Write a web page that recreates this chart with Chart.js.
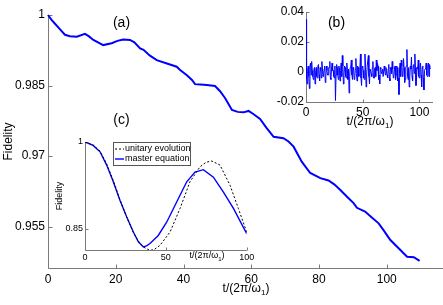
<!DOCTYPE html>
<html>
<head>
<meta charset="utf-8">
<script src="https://cdn.jsdelivr.net/npm/chart.js@4.4.1/dist/chart.umd.min.js"></script>
<style>
  html, body { margin: 0; padding: 0; background: #fff; }
  #wrap { position: relative; width: 443px; height: 305px; overflow: hidden; }
  canvas { position: absolute; }
  #main { left: 0; top: 0; }
  #insetB { left: 260px; top: 0; }
  #insetC { left: 40px; top: 110px; }
</style>
</head>
<body>
<div id="wrap">
  <canvas id="main" width="443" height="305"></canvas>
  <canvas id="insetC" width="220" height="160"></canvas>
  <canvas id="insetB" width="183" height="135"></canvas>
</div>
<script>
// (a) fidelity under the master equation, long run
const mainT = [0, 1, 2, 3.5, 5, 6.5, 8.5, 10.9, 12, 13.4, 16.3, 18.8, 20.5, 22.2, 24.2, 25.5, 27.2, 28.2, 30, 32.1,
  35.1, 38, 39, 41, 42.5, 43.4, 45, 46.9, 49.3, 50.8, 52.3, 54.3, 56, 57.7, 59.2, 60.5, 62.6, 64.5, 66.6, 69.5,
  71, 72.5, 74.9, 77.4, 80.4, 82.8, 84.5, 86.3, 88.2, 90.2, 91.2, 93.6, 95.5, 97.6, 99.3, 101, 103.5, 106, 108, 109.7];
const mainF = [1.0, 0.9990, 0.9982, 0.9970, 0.9958, 0.9955, 0.9954, 0.9960, 0.9955, 0.9947, 0.9936, 0.9940, 0.9945, 0.9948, 0.9947, 0.9942, 0.9929, 0.9926, 0.9914, 0.9904,
  0.9897, 0.9890, 0.9883, 0.9872, 0.9862, 0.9853, 0.9852, 0.9851, 0.9849, 0.9838, 0.9823, 0.9798, 0.9794, 0.9793, 0.9796, 0.9790, 0.9779, 0.9760, 0.9741, 0.9738,
  0.9731, 0.9720, 0.9688, 0.9664, 0.9653, 0.9648, 0.9640, 0.9628, 0.9614, 0.9600, 0.9590, 0.9582, 0.9570, 0.9557, 0.9540, 0.9522, 0.9504, 0.9486, 0.9485, 0.9477];
const mainXTicks = [0, 20, 40, 60, 80, 100];
const mainYTicks = [0.955, 0.97, 0.985, 1];

// (b) difference: values at whole periods 0..109 and at the half periods 0.5..109.5
const bWhole = [0.035, -0.008, 0.004, -0.011, 0.006, 0.007, -0.003, 0.002, -0.008, 0.003, -0.004, 0.005, -0.006, 0.001, 0.007, -0.003, 0.002, -0.007, 0.004, -0.002,
  0.003, 0.007, -0.005, 0.006, 0.001, -0.004, -0.019, 0.005, -0.002, 0.004, -0.006, 0.006, 0.011, -0.008, 0.004, -0.003, 0.006, -0.005, -0.014, 0.003,
  0.008, -0.005, 0.002, -0.004, 0.009, -0.006, 0.003, -0.002, 0.012, -0.009, 0.004, -0.004, 0.012, -0.010, 0.004, 0.011, -0.008, 0.002, -0.003, 0.007,
  -0.004, 0.003, 0.008, 0.006, -0.005, -0.008, 0.002, 0.000, -0.003, 0.004, -0.002, 0.001, -0.004, 0.005, -0.006, 0.003, 0.007, -0.004, 0.002, -0.005,
  0.004, -0.006, -0.015, 0.006, 0.008, -0.003, 0.009, -0.007, 0.003, 0.015, -0.005, -0.010, 0.004, 0.010, -0.006, 0.005, 0.012, -0.009, 0.003, 0.008,
  -0.004, 0.006, -0.010, 0.004, -0.012, 0.002, 0.006, -0.003, 0.006, 0.005];
const bHalf = [-0.004, 0.002, -0.003, 0.004, -0.002, 0.001, -0.005, 0.003, 0.000, -0.003, 0.004, -0.002, 0.003, -0.004, 0.002, -0.001, 0.004, -0.003, 0.001, -0.002,
  0.003, -0.004, 0.002, 0.001, -0.003, 0.004, -0.002, 0.003, -0.005, 0.002, 0.001, -0.003, 0.004, -0.002, 0.003, -0.004, 0.001, 0.002, -0.003, 0.004,
  -0.002, 0.003, -0.005, 0.002, -0.001, 0.004, -0.003, 0.002, -0.004, 0.003, 0.001, -0.005, 0.003, -0.002, 0.004, -0.003, 0.002, -0.001, 0.003, -0.004,
  0.002, -0.003, 0.001, 0.004, -0.002, 0.003, -0.001, 0.002, -0.003, 0.001, 0.003, -0.002, 0.002, -0.004, 0.003, -0.001, 0.002, -0.003, 0.004, -0.002,
  0.003, -0.004, 0.002, -0.003, 0.004, -0.002, 0.003, -0.005, 0.004, -0.002, 0.003, -0.004, 0.002, -0.003, 0.004, -0.001, 0.003, -0.004, 0.002, -0.003,
  0.004, -0.002, 0.003, -0.004, 0.001, 0.003, -0.002, 0.004, -0.003, 0.002];
const bXTicks = [0, 50, 100];
const bYTicks = [-0.02, 0, 0.02, 0.04];

// (c) short run: unitary evolution vs master equation
const unitaryT = [0, 5, 9.3, 13.4, 17.5, 21.6, 25.8, 29.9, 33, 36.1, 40.2, 43, 46.4, 52.6, 58.8, 64.9, 71.1, 75, 78.4, 83.5, 89.7, 94.8, 100];
const unitaryF = [1.0, 0.995, 0.984, 0.962, 0.933, 0.900, 0.870, 0.843, 0.828, 0.818, 0.812, 0.814, 0.821, 0.844, 0.885, 0.931, 0.957, 0.965, 0.967, 0.960, 0.925, 0.885, 0.844];
const masterT = [0, 5, 9.3, 13.4, 17.5, 21.6, 25.8, 29.9, 33, 36.1, 38, 40.2, 45.3, 50.5, 56.7, 62.9, 68, 73.2, 79.4, 85.6, 91.8, 100];
const masterF = [1.0, 0.994, 0.983, 0.960, 0.931, 0.899, 0.870, 0.844, 0.827, 0.818, 0.820, 0.824, 0.838, 0.861, 0.896, 0.931, 0.948, 0.952, 0.939, 0.913, 0.885, 0.841];
const cXTicks = [0, 50, 100];
const cYTicks = [0.85, 1];

const FONT = '"Liberation Sans", Arial, Helvetica, sans-serif';
const AXIS = '#7a7a7a';

function pts(xs, ys) { return xs.map((x, i) => ({ x: x, y: ys[i] })); }

// interleave whole and half period samples
const bPts = [];
bWhole.forEach((v, i) => {
  bPts.push({ x: i, y: v });
  bPts.push({ x: i + 0.5, y: bHalf[i] });
});

function drawSubTitle(ctx, cx, cy, size) {
  const a = 't/(2\u03c0/\u03c9', s = '1', b = ')';
  ctx.font = size + 'px ' + FONT;
  const wa = ctx.measureText(a).width, wb = ctx.measureText(b).width;
  ctx.font = Math.round(size * 0.7) + 'px ' + FONT;
  const ws = ctx.measureText(s).width;
  let x = cx - (wa + ws + wb) / 2;
  ctx.textAlign = 'left';
  ctx.textBaseline = 'middle';
  ctx.font = size + 'px ' + FONT;
  ctx.fillText(a, x, cy); x += wa;
  ctx.font = Math.round(size * 0.7) + 'px ' + FONT;
  ctx.fillText(s, x, cy + size * 0.35); x += ws;
  ctx.font = size + 'px ' + FONT;
  ctx.fillText(b, x, cy);
}

// matlab-ish axes: left and bottom lines with inward ticks, plus free text
const matlabAxes = {
  id: 'matlabAxes',
  beforeDatasetsDraw(chart, args, opts) {
    const { ctx, chartArea: a, scales } = chart;
    const L = Math.round(a.left) + 0.5, B = Math.round(a.bottom) + 0.5;
    ctx.save();
    ctx.strokeStyle = AXIS;
    ctx.lineWidth = 1;
    ctx.beginPath();
    ctx.moveTo(L, a.top);
    ctx.lineTo(L, B);
    ctx.lineTo(a.right, B);
    scales.x.ticks.forEach(t => {
      const px = Math.round(scales.x.getPixelForValue(t.value)) + 0.5;
      ctx.moveTo(px, B); ctx.lineTo(px, B - opts.tick);
    });
    scales.y.ticks.forEach(t => {
      const py = Math.round(scales.y.getPixelForValue(t.value)) + 0.5;
      ctx.moveTo(L, py); ctx.lineTo(L + opts.tick, py);
    });
    ctx.stroke();
    ctx.restore();
  },
  afterDraw(chart, args, opts) {
    const ctx = chart.ctx;
    ctx.save();
    ctx.fillStyle = '#000';
    (opts.texts || []).forEach(t => {
      ctx.save();
      ctx.translate(t.x, t.y);
      if (t.rot) ctx.rotate(t.rot);
      ctx.font = t.size + 'px ' + FONT;
      ctx.textAlign = 'center';
      ctx.textBaseline = 'middle';
      ctx.fillText(t.text, 0, 0);
      ctx.restore();
    });
    if (opts.xTitle) drawSubTitle(ctx, opts.xTitle.x, opts.xTitle.y, opts.xTitle.size);
    if (opts.legend) {
      const lg = opts.legend;
      ctx.fillStyle = '#fff';
      ctx.fillRect(lg.x, lg.y, lg.w, lg.h);
      ctx.strokeStyle = '#555';
      ctx.lineWidth = 1;
      ctx.strokeRect(lg.x + 0.5, lg.y + 0.5, lg.w, lg.h);
      chart.data.datasets.forEach((ds, i) => {
        const y = lg.y + lg.row0 + i * lg.rowH;
        ctx.strokeStyle = ds.borderColor;
        ctx.lineWidth = ds.borderWidth;
        ctx.setLineDash(ds.borderDash || []);
        ctx.beginPath();
        ctx.moveTo(lg.x + 2, y); ctx.lineTo(lg.x + 11, y);
        ctx.stroke();
        ctx.setLineDash([]);
        ctx.fillStyle = '#000';
        ctx.font = lg.size + 'px ' + FONT;
        ctx.textAlign = 'left';
        ctx.textBaseline = 'middle';
        ctx.fillText(ds.label, lg.x + 12, y);
      });
    }
    ctx.restore();
  }
};

function scaleOpts(min, max, ticks, size, pad, fit) {
  return {
    type: 'linear', min: min, max: max,
    grid: { display: false, drawTicks: false },
    border: { display: false },
    ticks: { color: '#000', padding: pad, font: { family: FONT, size: size }, maxRotation: 0, autoSkip: false,
      callback: v => String(v) },
    afterBuildTicks: s => { s.ticks = ticks.map(v => ({ value: v })); },
    afterFit: fit
  };
}

new Chart(document.getElementById('main'), {
  type: 'line',
  data: { datasets: [{ data: pts(mainT, mainF), borderColor: '#0000ff', borderWidth: 2, pointRadius: 0, tension: 0, clip: 4 }] },
  options: {
    responsive: false, animation: false, events: [],
    layout: { padding: { top: 15, right: 0, left: 0, bottom: 0 } },
    plugins: {
      legend: { display: false }, tooltip: { enabled: false },
      matlabAxes: {
        tick: 4,
        texts: [
          { text: '(a)', x: 121.5, y: 23, size: 14 },
          { text: '(c)', x: 121.5, y: 120, size: 14 },
          { text: 'Fidelity', x: 9, y: 141.5, size: 12, rot: -Math.PI / 2 }
        ],
        xTitle: { x: 246, y: 289, size: 12 }
      }
    },
    scales: {
      x: scaleOpts(0, 116.6, mainXTicks, 12, 4, s => { s.height = 37; }),
      y: scaleOpts(0.9462, 1, mainYTicks, 12, 3, s => { s.width = 48; })
    }
  },
  plugins: [matlabAxes]
});

new Chart(document.getElementById('insetB'), {
  type: 'line',
  data: { datasets: [{ data: bPts, borderColor: '#0000ff', borderWidth: 1, pointRadius: 0, tension: 0 }] },
  options: {
    responsive: false, animation: false, events: [],
    layout: { padding: { top: 12, right: 10, left: 0, bottom: 0 } },
    plugins: {
      legend: { display: false }, tooltip: { enabled: false },
      matlabAxes: {
        tick: 3,
        texts: [{ text: '(b)', x: 76.5, y: 23.5, size: 14 }],
        xTitle: { x: 110, y: 122, size: 12 }
      }
    },
    scales: {
      x: scaleOpts(0, 112, bXTicks, 12, 3, s => { s.height = 33; }),
      y: scaleOpts(-0.02, 0.04, bYTicks, 12, 2, s => { s.width = 46; })
    }
  },
  plugins: [matlabAxes]
});

new Chart(document.getElementById('insetC'), {
  type: 'line',
  data: {
    datasets: [
      { label: 'unitary evolution', data: pts(unitaryT, unitaryF), borderColor: '#000', borderWidth: 1, borderDash: [2, 2], pointRadius: 0, tension: 0 },
      { label: 'master equation', data: pts(masterT, masterF), borderColor: '#0000ff', borderWidth: 1.4, pointRadius: 0, tension: 0 }
    ]
  },
  options: {
    responsive: false, animation: false, events: [],
    layout: { padding: { top: 32, right: 13.3, left: 0, bottom: 0 } },
    plugins: {
      legend: { display: false }, tooltip: { enabled: false },
      matlabAxes: {
        tick: 3,
        texts: [{ text: 'Fidelity', x: 20, y: 86, size: 9, rot: -Math.PI / 2 }],
        xTitle: { x: 167, y: 146, size: 9 },
        legend: { x: 73, y: 32, w: 77, h: 23, row0: 7, rowH: 10, size: 9 }
      }
    },
    scales: {
      x: scaleOpts(0, 100, cXTicks, 9, 2, s => { s.height = 20; }),
      y: scaleOpts(0.8128, 1, cYTicks, 9, 2, s => { s.width = 45; })
    }
  },
  plugins: [matlabAxes]
});
</script>
</body>
</html>
